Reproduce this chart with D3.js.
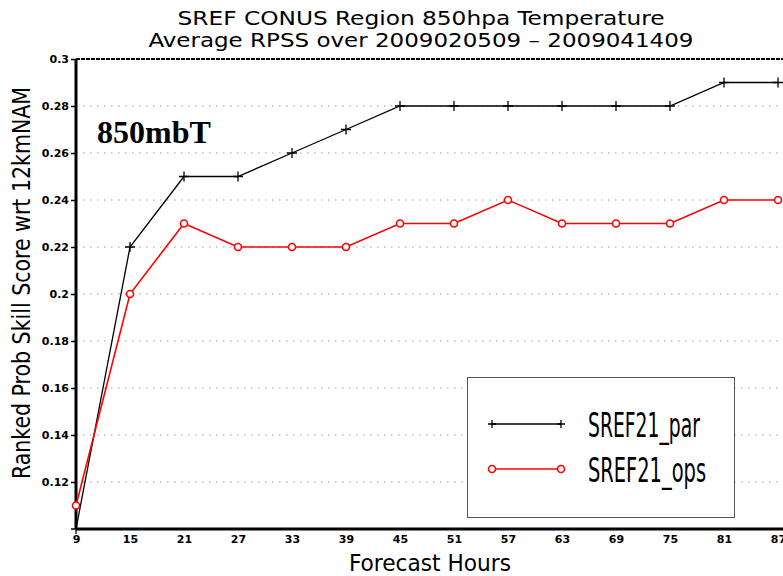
<!DOCTYPE html>
<html><head><meta charset="utf-8">
<script src="https://cdn.jsdelivr.net/npm/d3@7"></script>
<style>body{margin:0;background:#fff}</style>
</head><body>
<svg id="c" width="783" height="576"></svg>
<script>
const hours = [9,15,21,27,33,39,45,51,57,63,69,75,81,87];
const parValues = [0.10,0.22,0.25,0.25,0.26,0.27,0.28,0.28,0.28,0.28,0.28,0.28,0.29,0.29];
const opsValues = [0.11,0.20,0.23,0.22,0.22,0.22,0.23,0.23,0.24,0.23,0.23,0.23,0.24,0.24];
const yTicks = [0.12,0.14,0.16,0.18,0.2,0.22,0.24,0.26,0.28,0.3];
const seriesNames = ["SREF21_par","SREF21_ops"];
const titleLines = ["SREF CONUS Region 850hpa Temperature","Average RPSS over 2009020509 \u2013 2009041409"];

const svg = d3.select("#c");
const x = d3.scaleLinear().domain([9,87]).range([76,778]);
const y = d3.scaleLinear().domain([0.1,0.3]).range([529,59]);
const font = "'Liberation Sans Narrow','DejaVu Sans Condensed',sans-serif";

// grid
svg.append("g").selectAll("line").data(yTicks.filter(d=>d<0.3)).join("line")
  .attr("x1",x(9)).attr("x2",783).attr("y1",d=>y(d)).attr("y2",d=>y(d))
  .attr("stroke","#999").attr("stroke-width",1).attr("stroke-dasharray","1.5,5.5");
// top border
svg.append("line").attr("x1",x(9)).attr("x2",783).attr("y1",y(0.3)).attr("y2",y(0.3))
  .attr("stroke","#000").attr("stroke-width",2).attr("stroke-dasharray","4,1");

// y axis
const yAxis = d3.axisLeft(y).tickValues(yTicks).tickSize(5).tickFormat(d=>String(+d.toFixed(2)));
const gy = svg.append("g").attr("transform",`translate(${x(9)},0)`).call(yAxis);
gy.select(".domain").attr("stroke","#000").attr("stroke-width",3).attr("d",`M0,${y(0.3)}V${y(0.1)}`);
gy.selectAll(".tick line").attr("stroke","#000").attr("stroke-width",1.5);
gy.selectAll("text").attr("font-family","'DejaVu Sans',sans-serif").attr("font-size",11).attr("font-weight","bold").attr("fill","#000").attr("x",-7);

// x axis
const xAxis = d3.axisBottom(x).tickValues(hours).tickSize(0).tickPadding(6);
const gx = svg.append("g").attr("transform",`translate(0,${y(0.1)})`).call(xAxis);
gx.select(".domain").attr("stroke","#000").attr("stroke-width",3).attr("d",`M${x(9)},0H783`);
gx.selectAll("text").attr("font-family","'DejaVu Sans',sans-serif").attr("font-size",11).attr("font-weight","bold").attr("fill","#000");

const line = d3.line().x((d,i)=>x(hours[i])).y(d=>y(d));
// par series
svg.append("path").datum(parValues).attr("d",line).attr("fill","none").attr("stroke","#000").attr("stroke-width",1.3);
svg.append("g").selectAll("path").data(parValues).join("path")
  .attr("d",(d,i)=>`M${x(hours[i])-5},${y(d)}h10M${x(hours[i])},${y(d)-5}v10`)
  .attr("stroke","#000").attr("stroke-width",1.3);
// ops series
svg.append("path").datum(opsValues).attr("d",line).attr("fill","none").attr("stroke","#f00").attr("stroke-width",1.6);
svg.append("g").selectAll("circle").data(opsValues).join("circle")
  .attr("cx",(d,i)=>x(hours[i])).attr("cy",d=>y(d)).attr("r",3.5)
  .attr("fill","#fff").attr("stroke","#f00").attr("stroke-width",1.6);

// titles
svg.append("g").selectAll("text").data(titleLines).join("text")
  .attr("x",421).attr("y",(d,i)=>25+i*22).attr("text-anchor","middle")
  .attr("font-family",font).attr("font-size",19).attr("fill","#000")
  .attr("textLength",(d,i)=>i===0?487:545).attr("lengthAdjust","spacingAndGlyphs")
  .text(d=>d);

// axis titles
svg.append("text").attr("x",430).attr("y",571).attr("text-anchor","middle")
  .attr("font-family",font).attr("font-size",23).attr("textLength",162).attr("lengthAdjust","spacingAndGlyphs")
  .text("Forecast Hours");
svg.append("text").attr("transform","translate(30,283) rotate(-90)").attr("text-anchor","middle")
  .attr("font-family",font).attr("font-size",24).attr("textLength",392).attr("lengthAdjust","spacingAndGlyphs")
  .text("Ranked Prob Skill Score wrt 12kmNAM");

// annotation
svg.append("text").attr("x",97).attr("y",143).attr("font-family","'Liberation Serif','Times New Roman',serif")
  .attr("font-size",32).attr("font-weight","bold").text("850mbT");

// legend
const lg = svg.append("g");
lg.append("rect").attr("x",467.5).attr("y",377.5).attr("width",267).attr("height",140)
  .attr("fill","#fff").attr("stroke","#555").attr("stroke-width",1);
const legY = [424,469];
const lx1 = 492, lx2 = 561;
lg.append("line").attr("x1",lx1).attr("x2",lx2).attr("y1",legY[0]).attr("y2",legY[0]).attr("stroke","#000").attr("stroke-width",1.3);
[lx1,lx2].forEach(px=>lg.append("path").attr("d",`M${px-4},${legY[0]}h8M${px},${legY[0]-4}v8`).attr("stroke","#000").attr("stroke-width",1.3));
lg.append("line").attr("x1",lx1).attr("x2",lx2).attr("y1",legY[1]).attr("y2",legY[1]).attr("stroke","#f00").attr("stroke-width",1.6);
[lx1,lx2].forEach(px=>lg.append("circle").attr("cx",px).attr("cy",legY[1]).attr("r",3.5).attr("fill","#fff").attr("stroke","#f00").attr("stroke-width",1.6));
lg.selectAll("text.leg").data(seriesNames).join("text").attr("class","leg")
  .attr("x",588).attr("y",(d,i)=>legY[i]+13).attr("font-family",font).attr("font-size",33)
  .attr("textLength",(d,i)=>i===0?112:118).attr("lengthAdjust","spacingAndGlyphs")
  .text(d=>d);
</script>
</body></html>
